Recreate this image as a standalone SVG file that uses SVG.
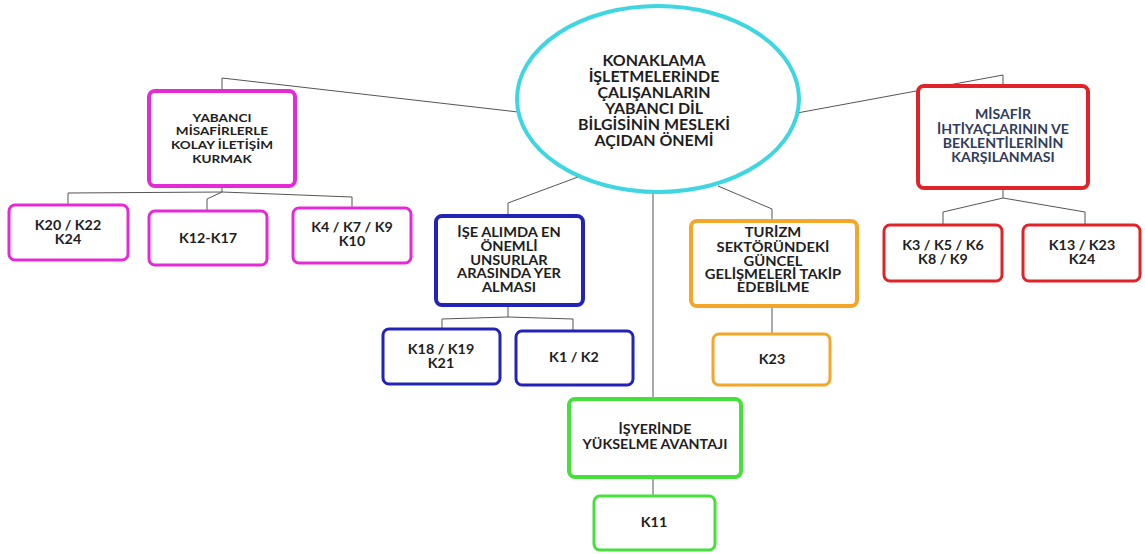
<svg xmlns="http://www.w3.org/2000/svg" width="1145" height="554" viewBox="0 0 1145 554">
<style>
text{font-family:Lato,"Open Sans","DejaVu Sans",sans-serif;font-weight:bold;fill:#1e1e1e;text-anchor:middle}
.c{font-size:14.5px}
.m{font-size:12px}
.l{font-size:12.5px}
.k{font-size:13px}
.r{fill:#2f3d5c;font-size:12.5px}
.conn{fill:none;stroke:#555;stroke-width:1}
.box{fill:#fff;stroke-width:4}
.leaf{fill:#fff;stroke-width:3}
.pink{stroke:#e32ad6}
.red{stroke:#df2328}
.blue{stroke:#2323b8}
.orange{stroke:#f4a628}
.green{stroke:#45e03a}
</style>
<rect width="1145" height="554" fill="#fff"/>
<g id="connectors">
<polyline class="conn" points="518,112 222,78 222,90"/>
<polyline class="conn" points="222,186 222,192 68,193 68,205"/>
<polyline class="conn" points="222,192 207,199 207,211"/>
<polyline class="conn" points="222,192 352,197 352,208"/>
<polyline class="conn" points="797,113 1003,75 1003,85"/>
<polyline class="conn" points="1003,188 1003,198 943,212 943,225"/>
<polyline class="conn" points="1003,198 1085,212 1085,225"/>
<polyline class="conn" points="578,177 508,203 508,215"/>
<polyline class="conn" points="508,305 508,317 442,319 442,328"/>
<polyline class="conn" points="508,317 573,319 573,330"/>
<polyline class="conn" points="718,186 772,209 772,220"/>
<polyline class="conn" points="772,306 772,333"/>
<polyline class="conn" points="653,193 653,398"/>
<polyline class="conn" points="653,477 653,495"/>
</g>
<g id="center">
<ellipse cx="658" cy="99" rx="141" ry="93" fill="#fff" stroke="#3ed6e0" stroke-width="4"/>
<g transform="translate(654,0) scale(1.1,1)">
<text class="c" x="0" y="66">KONAKLAMA</text>
<text class="c" x="0" y="82">İŞLETMELERİNDE</text>
<text class="c" x="0" y="98">ÇALIŞANLARIN</text>
<text class="c" x="0" y="114.5">YABANCI DİL</text>
<text class="c" x="0" y="130.5">BİLGİSİNİN MESLEKİ</text>
<text class="c" x="0" y="146">AÇIDAN ÖNEMİ</text>
</g>
</g>
<g id="n-iletisim">
<rect class="box pink" x="149" y="91" width="146" height="95" rx="6"/>
<g transform="translate(222,0) scale(1.13,1)">
<text class="m" x="0" y="122">YABANCI</text>
<text class="m" x="0" y="135.5">MİSAFİRLERLE</text>
<text class="m" x="0" y="149">KOLAY İLETİŞİM</text>
<text class="m" x="0" y="163">KURMAK</text>
</g>
</g>
<g id="l-k20">
<rect class="leaf pink" x="9" y="205" width="119" height="55" rx="6"/>
<g transform="translate(68,0) scale(1.1,1)">
<text class="k" x="0" y="230">K20 / K22</text>
<text class="k" x="0" y="244">K24</text>
</g>
</g>
<g id="l-k12">
<rect class="leaf pink" x="149" y="211" width="118" height="54" rx="6"/>
<g transform="translate(208,0) scale(1.1,1)">
<text class="k" x="0" y="243">K12-K17</text>
</g>
</g>
<g id="l-k4">
<rect class="leaf pink" x="293" y="208" width="118" height="55" rx="6"/>
<g transform="translate(352,0) scale(1.1,1)">
<text class="k" x="0" y="232">K4 / K7 / K9</text>
<text class="k" x="0" y="246">K10</text>
</g>
</g>
<g id="n-misafir">
<rect class="box red" x="918" y="86" width="170" height="102" rx="6"/>
<g transform="translate(1003,0) scale(1.13,1)">
<text class="r" x="0" y="119.5">MİSAFİR</text>
<text class="r" x="0" y="134.5">İHTİYAÇLARININ VE</text>
<text class="r" x="0" y="148">BEKLENTİLERİNİN</text>
<text class="r" x="0" y="162.5">KARŞILANMASI</text>
</g>
</g>
<g id="l-k3">
<rect class="leaf red" x="884" y="225" width="118" height="56" rx="6"/>
<g transform="translate(943,0) scale(1.1,1)">
<text class="k" x="0" y="250">K3 / K5 / K6</text>
<text class="k" x="0" y="264">K8 / K9</text>
</g>
</g>
<g id="l-k13">
<rect class="leaf red" x="1023" y="225" width="117" height="56" rx="6"/>
<g transform="translate(1082,0) scale(1.1,1)">
<text class="k" x="0" y="250">K13 / K23</text>
<text class="k" x="0" y="264">K24</text>
</g>
</g>
<g id="n-ise">
<rect class="box blue" x="436" y="216" width="147" height="89" rx="6"/>
<g transform="translate(509,0) scale(1.17,1)">
<text class="l" x="0" y="237.5">İŞE ALIMDA EN</text>
<text class="l" x="0" y="251.5">ÖNEMLİ</text>
<text class="l" x="0" y="265">UNSURLAR</text>
<text class="l" x="0" y="278.5">ARASINDA YER</text>
<text class="l" x="0" y="292.5">ALMASI</text>
</g>
</g>
<g id="l-k18">
<rect class="leaf blue" x="383" y="329" width="117" height="55" rx="6"/>
<g transform="translate(441,0) scale(1.1,1)">
<text class="k" x="0" y="354">K18 / K19</text>
<text class="k" x="0" y="368">K21</text>
</g>
</g>
<g id="l-k1">
<rect class="leaf blue" x="516" y="331" width="117" height="54" rx="6"/>
<g transform="translate(574,0) scale(1.1,1)">
<text class="k" x="0" y="362">K1 / K2</text>
</g>
</g>
<g id="n-turizm">
<rect class="box orange" x="691" y="221" width="166" height="85" rx="6"/>
<g transform="translate(773,0) scale(1.18,1)">
<text class="l" x="0" y="237.5">TURİZM</text>
<text class="l" x="0" y="252">SEKTÖRÜNDEKİ</text>
<text class="l" x="0" y="266">GÜNCEL</text>
<text class="l" x="0" y="279.5">GELİŞMELERİ TAKİP</text>
<text class="l" x="0" y="292.5">EDEBİLME</text>
</g>
</g>
<g id="l-k23">
<rect class="leaf orange" x="713" y="334" width="117" height="51" rx="6"/>
<g transform="translate(772,0) scale(1.1,1)">
<text class="k" x="0" y="364">K23</text>
</g>
</g>
<g id="n-isyeri">
<rect class="box green" x="569" y="399" width="172" height="78" rx="6"/>
<g transform="translate(655,0) scale(1.1,1)">
<text class="k" x="0" y="434.5">İŞYERİNDE</text>
<text class="k" x="0" y="449">YÜKSELME AVANTAJI</text>
</g>
</g>
<g id="l-k11">
<rect class="leaf green" x="594" y="496" width="121" height="54" rx="6"/>
<g transform="translate(654,0) scale(1.1,1)">
<text class="k" x="0" y="527">K11</text>
</g>
</g>
</svg>
